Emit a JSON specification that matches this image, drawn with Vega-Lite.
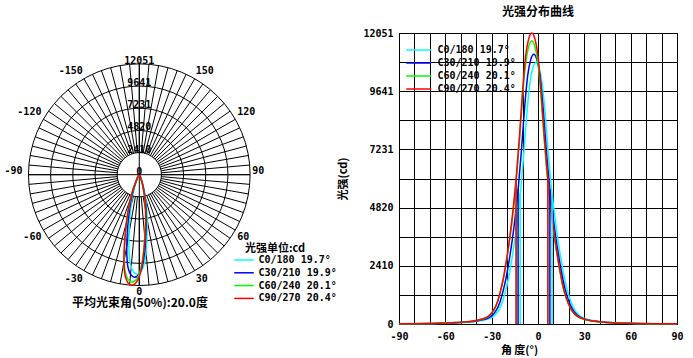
{
"$schema": "https://vega.github.io/schema/vega-lite/v6.json",
"padding": {"left": 0, "top": 5, "right": 0, "bottom": 0},
"background": "white",
"bounds": "flush",
"spacing": 119,
"config": {"view": {"stroke": null}, "font": "DejaVu Sans Mono"},
"resolve": {"scale": {"color": "independent"}, "legend": {"color": "independent"}},
"datasets": {
"curves": [
{"series":"C0/180 19.7°","angle":-90,"cd":11},{"series":"C0/180 19.7°","angle":-61.3,"cd":32},{"series":"C0/180 19.7°","angle":-51.3,"cd":54},{"series":"C0/180 19.7°","angle":-41.3,"cd":97},{"series":"C0/180 19.7°","angle":-33.3,"cd":184},{"series":"C0/180 19.7°","angle":-29.3,"cd":292},{"series":"C0/180 19.7°","angle":-26.3,"cd":487},{"series":"C0/180 19.7°","angle":-23.3,"cd":866},{"series":"C0/180 19.7°","angle":-21.3,"cd":1298},{"series":"C0/180 19.7°","angle":-19.3,"cd":1839},{"series":"C0/180 19.7°","angle":-17.3,"cd":2543},{"series":"C0/180 19.7°","angle":-15.3,"cd":3354},{"series":"C0/180 19.7°","angle":-13.3,"cd":4328},{"series":"C0/180 19.7°","angle":-11.3,"cd":5518},{"series":"C0/180 19.7°","angle":-9.3,"cd":6979},{"series":"C0/180 19.7°","angle":-7.3,"cd":8656},{"series":"C0/180 19.7°","angle":-5.3,"cd":9954},{"series":"C0/180 19.7°","angle":-3.3,"cd":10604},{"series":"C0/180 19.7°","angle":-1.3,"cd":10820},{"series":"C0/180 19.7°","angle":0.7,"cd":10604},{"series":"C0/180 19.7°","angle":2.7,"cd":9954},{"series":"C0/180 19.7°","angle":4.7,"cd":8656},{"series":"C0/180 19.7°","angle":6.7,"cd":7033},{"series":"C0/180 19.7°","angle":8.7,"cd":5626},{"series":"C0/180 19.7°","angle":10.7,"cd":4544},{"series":"C0/180 19.7°","angle":12.7,"cd":3571},{"series":"C0/180 19.7°","angle":14.7,"cd":2759},{"series":"C0/180 19.7°","angle":16.7,"cd":2056},{"series":"C0/180 19.7°","angle":18.7,"cd":1461},{"series":"C0/180 19.7°","angle":20.7,"cd":1028},{"series":"C0/180 19.7°","angle":23.7,"cd":595},{"series":"C0/180 19.7°","angle":26.7,"cd":357},{"series":"C0/180 19.7°","angle":30.7,"cd":216},{"series":"C0/180 19.7°","angle":38.7,"cd":108},{"series":"C0/180 19.7°","angle":48.7,"cd":54},{"series":"C0/180 19.7°","angle":58.7,"cd":32},{"series":"C0/180 19.7°","angle":90,"cd":11},
{"series":"C30/210 19.9°","angle":-90,"cd":11},{"series":"C30/210 19.9°","angle":-62.7,"cd":34},{"series":"C30/210 19.9°","angle":-52.7,"cd":56},{"series":"C30/210 19.9°","angle":-42.7,"cd":101},{"series":"C30/210 19.9°","angle":-34.7,"cd":190},{"series":"C30/210 19.9°","angle":-30.7,"cd":302},{"series":"C30/210 19.9°","angle":-27.7,"cd":503},{"series":"C30/210 19.9°","angle":-24.7,"cd":894},{"series":"C30/210 19.9°","angle":-22.7,"cd":1340},{"series":"C30/210 19.9°","angle":-20.7,"cd":1899},{"series":"C30/210 19.9°","angle":-18.7,"cd":2625},{"series":"C30/210 19.9°","angle":-16.7,"cd":3463},{"series":"C30/210 19.9°","angle":-14.7,"cd":4468},{"series":"C30/210 19.9°","angle":-12.7,"cd":5697},{"series":"C30/210 19.9°","angle":-10.7,"cd":7205},{"series":"C30/210 19.9°","angle":-8.7,"cd":8936},{"series":"C30/210 19.9°","angle":-6.7,"cd":10276},{"series":"C30/210 19.9°","angle":-4.7,"cd":10947},{"series":"C30/210 19.9°","angle":-2.7,"cd":11170},{"series":"C30/210 19.9°","angle":-0.7,"cd":10947},{"series":"C30/210 19.9°","angle":1.3,"cd":10276},{"series":"C30/210 19.9°","angle":3.3,"cd":8936},{"series":"C30/210 19.9°","angle":5.3,"cd":7261},{"series":"C30/210 19.9°","angle":7.3,"cd":5808},{"series":"C30/210 19.9°","angle":9.3,"cd":4691},{"series":"C30/210 19.9°","angle":11.3,"cd":3686},{"series":"C30/210 19.9°","angle":13.3,"cd":2848},{"series":"C30/210 19.9°","angle":15.3,"cd":2122},{"series":"C30/210 19.9°","angle":17.3,"cd":1508},{"series":"C30/210 19.9°","angle":19.3,"cd":1061},{"series":"C30/210 19.9°","angle":22.3,"cd":614},{"series":"C30/210 19.9°","angle":25.3,"cd":369},{"series":"C30/210 19.9°","angle":29.3,"cd":223},{"series":"C30/210 19.9°","angle":37.3,"cd":112},{"series":"C30/210 19.9°","angle":47.3,"cd":56},{"series":"C30/210 19.9°","angle":57.3,"cd":34},{"series":"C30/210 19.9°","angle":90,"cd":11},
{"series":"C60/240 20.1°","angle":-90,"cd":12},{"series":"C60/240 20.1°","angle":-64,"cd":35},{"series":"C60/240 20.1°","angle":-54,"cd":59},{"series":"C60/240 20.1°","angle":-44,"cd":106},{"series":"C60/240 20.1°","angle":-36,"cd":199},{"series":"C60/240 20.1°","angle":-32,"cd":317},{"series":"C60/240 20.1°","angle":-29,"cd":528},{"series":"C60/240 20.1°","angle":-26,"cd":938},{"series":"C60/240 20.1°","angle":-24,"cd":1408},{"series":"C60/240 20.1°","angle":-22,"cd":1994},{"series":"C60/240 20.1°","angle":-20,"cd":2757},{"series":"C60/240 20.1°","angle":-18,"cd":3636},{"series":"C60/240 20.1°","angle":-16,"cd":4692},{"series":"C60/240 20.1°","angle":-14,"cd":5982},{"series":"C60/240 20.1°","angle":-12,"cd":7566},{"series":"C60/240 20.1°","angle":-10,"cd":9384},{"series":"C60/240 20.1°","angle":-8,"cd":10792},{"series":"C60/240 20.1°","angle":-6,"cd":11495},{"series":"C60/240 20.1°","angle":-4,"cd":11730},{"series":"C60/240 20.1°","angle":-2,"cd":11495},{"series":"C60/240 20.1°","angle":0,"cd":10792},{"series":"C60/240 20.1°","angle":2,"cd":9384},{"series":"C60/240 20.1°","angle":4,"cd":7625},{"series":"C60/240 20.1°","angle":6,"cd":6100},{"series":"C60/240 20.1°","angle":8,"cd":4927},{"series":"C60/240 20.1°","angle":10,"cd":3871},{"series":"C60/240 20.1°","angle":12,"cd":2991},{"series":"C60/240 20.1°","angle":14,"cd":2229},{"series":"C60/240 20.1°","angle":16,"cd":1584},{"series":"C60/240 20.1°","angle":18,"cd":1114},{"series":"C60/240 20.1°","angle":21,"cd":645},{"series":"C60/240 20.1°","angle":24,"cd":387},{"series":"C60/240 20.1°","angle":28,"cd":235},{"series":"C60/240 20.1°","angle":36,"cd":117},{"series":"C60/240 20.1°","angle":46,"cd":59},{"series":"C60/240 20.1°","angle":56,"cd":35},{"series":"C60/240 20.1°","angle":90,"cd":12},
{"series":"C90/270 20.4°","angle":-90,"cd":12},{"series":"C90/270 20.4°","angle":-64,"cd":36},{"series":"C90/270 20.4°","angle":-54,"cd":60},{"series":"C90/270 20.4°","angle":-44,"cd":108},{"series":"C90/270 20.4°","angle":-36,"cd":205},{"series":"C90/270 20.4°","angle":-32,"cd":325},{"series":"C90/270 20.4°","angle":-29,"cd":542},{"series":"C90/270 20.4°","angle":-26,"cd":964},{"series":"C90/270 20.4°","angle":-24,"cd":1446},{"series":"C90/270 20.4°","angle":-22,"cd":2049},{"series":"C90/270 20.4°","angle":-20,"cd":2832},{"series":"C90/270 20.4°","angle":-18,"cd":3736},{"series":"C90/270 20.4°","angle":-16,"cd":4820},{"series":"C90/270 20.4°","angle":-14,"cd":6146},{"series":"C90/270 20.4°","angle":-12,"cd":7773},{"series":"C90/270 20.4°","angle":-10,"cd":9641},{"series":"C90/270 20.4°","angle":-8,"cd":11087},{"series":"C90/270 20.4°","angle":-6,"cd":11810},{"series":"C90/270 20.4°","angle":-4,"cd":12051},{"series":"C90/270 20.4°","angle":-2,"cd":11810},{"series":"C90/270 20.4°","angle":0,"cd":11087},{"series":"C90/270 20.4°","angle":2,"cd":9641},{"series":"C90/270 20.4°","angle":4,"cd":7833},{"series":"C90/270 20.4°","angle":6,"cd":6267},{"series":"C90/270 20.4°","angle":8,"cd":5061},{"series":"C90/270 20.4°","angle":10,"cd":3977},{"series":"C90/270 20.4°","angle":12,"cd":3073},{"series":"C90/270 20.4°","angle":14,"cd":2290},{"series":"C90/270 20.4°","angle":16,"cd":1627},{"series":"C90/270 20.4°","angle":18,"cd":1145},{"series":"C90/270 20.4°","angle":21,"cd":663},{"series":"C90/270 20.4°","angle":24,"cd":398},{"series":"C90/270 20.4°","angle":28,"cd":241},{"series":"C90/270 20.4°","angle":36,"cd":121},{"series":"C90/270 20.4°","angle":46,"cd":60},{"series":"C90/270 20.4°","angle":56,"cd":36},{"series":"C90/270 20.4°","angle":90,"cd":12}
],
"beam": [
{"series":"C0/180 19.7°","angle":-11.5,"half":5410},{"series":"C0/180 19.7°","angle":9.1,"half":5410},
{"series":"C30/210 19.9°","angle":-12.9,"half":5585},{"series":"C30/210 19.9°","angle":7.7,"half":5585},
{"series":"C60/240 20.1°","angle":-14.1,"half":5865},{"series":"C60/240 20.1°","angle":6.3,"half":5865},
{"series":"C90/270 20.4°","angle":-14.2,"half":6025},{"series":"C90/270 20.4°","angle":6.4,"half":6025}
],
"rings": [{"ring":0},{"ring":2410},{"ring":4820},{"ring":7231},{"ring":9641},{"ring":12051}],
"anglabels": [{"angle":-150},{"angle":-120},{"angle":-90},{"angle":-60},{"angle":-30},{"angle":0},{"angle":30},{"angle":60},{"angle":90},{"angle":120},{"angle":150}],
"spokes": [
{"angle":0,"r1":-12051,"r2":12051},{"angle":90,"r1":-12051,"r2":12051},
{"angle":0,"r1":2410,"r2":12051},{"angle":5,"r1":2410,"r2":12051},{"angle":10,"r1":2410,"r2":12051},{"angle":15,"r1":2410,"r2":12051},{"angle":20,"r1":2410,"r2":12051},{"angle":25,"r1":2410,"r2":12051},{"angle":30,"r1":2410,"r2":12051},{"angle":35,"r1":2410,"r2":12051},{"angle":40,"r1":2410,"r2":12051},{"angle":45,"r1":2410,"r2":12051},{"angle":50,"r1":2410,"r2":12051},{"angle":55,"r1":2410,"r2":12051},{"angle":60,"r1":2410,"r2":12051},{"angle":65,"r1":2410,"r2":12051},{"angle":70,"r1":2410,"r2":12051},{"angle":75,"r1":2410,"r2":12051},{"angle":80,"r1":2410,"r2":12051},{"angle":85,"r1":2410,"r2":12051},{"angle":90,"r1":2410,"r2":12051},{"angle":95,"r1":2410,"r2":12051},{"angle":100,"r1":2410,"r2":12051},{"angle":105,"r1":2410,"r2":12051},{"angle":110,"r1":2410,"r2":12051},{"angle":115,"r1":2410,"r2":12051},{"angle":120,"r1":2410,"r2":12051},{"angle":125,"r1":2410,"r2":12051},{"angle":130,"r1":2410,"r2":12051},{"angle":135,"r1":2410,"r2":12051},{"angle":140,"r1":2410,"r2":12051},{"angle":145,"r1":2410,"r2":12051},{"angle":150,"r1":2410,"r2":12051},{"angle":155,"r1":2410,"r2":12051},{"angle":160,"r1":2410,"r2":12051},{"angle":165,"r1":2410,"r2":12051},{"angle":170,"r1":2410,"r2":12051},{"angle":175,"r1":2410,"r2":12051},{"angle":180,"r1":2410,"r2":12051},{"angle":185,"r1":2410,"r2":12051},{"angle":190,"r1":2410,"r2":12051},{"angle":195,"r1":2410,"r2":12051},{"angle":200,"r1":2410,"r2":12051},{"angle":205,"r1":2410,"r2":12051},{"angle":210,"r1":2410,"r2":12051},{"angle":215,"r1":2410,"r2":12051},{"angle":220,"r1":2410,"r2":12051},{"angle":225,"r1":2410,"r2":12051},{"angle":230,"r1":2410,"r2":12051},{"angle":235,"r1":2410,"r2":12051},{"angle":240,"r1":2410,"r2":12051},{"angle":245,"r1":2410,"r2":12051},{"angle":250,"r1":2410,"r2":12051},{"angle":255,"r1":2410,"r2":12051},{"angle":260,"r1":2410,"r2":12051},{"angle":265,"r1":2410,"r2":12051},{"angle":270,"r1":2410,"r2":12051},{"angle":275,"r1":2410,"r2":12051},{"angle":280,"r1":2410,"r2":12051},{"angle":285,"r1":2410,"r2":12051},{"angle":290,"r1":2410,"r2":12051},{"angle":295,"r1":2410,"r2":12051},{"angle":300,"r1":2410,"r2":12051},{"angle":305,"r1":2410,"r2":12051},{"angle":310,"r1":2410,"r2":12051},{"angle":315,"r1":2410,"r2":12051},{"angle":320,"r1":2410,"r2":12051},{"angle":325,"r1":2410,"r2":12051},{"angle":330,"r1":2410,"r2":12051},{"angle":335,"r1":2410,"r2":12051},{"angle":340,"r1":2410,"r2":12051},{"angle":345,"r1":2410,"r2":12051},{"angle":350,"r1":2410,"r2":12051},{"angle":355,"r1":2410,"r2":12051}
]
},
"hconcat": [
{
"width": 280, "height": 256,
"title": {"text": "平均光束角(50%):20.0度", "orient": "bottom", "frame": "group", "anchor": "middle", "baseline": "top", "offset": -6, "font": "Noto Sans CJK SC", "fontSize": 12, "fontWeight": "bold", "color": "black"},
"layer": [
{
"data": {"name": "spokes"},
"transform": [
{"calculate": "datum.r1 * sin(datum.angle * PI / 180)", "as": "xa"},
{"calculate": "-datum.r1 * cos(datum.angle * PI / 180)", "as": "ya"},
{"calculate": "datum.r2 * sin(datum.angle * PI / 180)", "as": "xb"},
{"calculate": "-datum.r2 * cos(datum.angle * PI / 180)", "as": "yb"}
],
"mark": {"type": "rule", "color": "black", "strokeWidth": 1},
"encoding": {
"x": {"field": "xa", "type": "quantitative", "scale": {"domain": [-15150, 15303], "nice": false, "zero": false}, "axis": null},
"y": {"field": "ya", "type": "quantitative", "scale": {"domain": [-12431, 15411], "nice": false, "zero": false}, "axis": null},
"x2": {"field": "xb"}, "y2": {"field": "yb"}
}
},
{
"data": {"name": "rings"},
"transform": [{"filter": "datum.ring > 0"}, {"calculate": "0", "as": "c0"}],
"mark": {"type": "point", "shape": "circle", "filled": false, "color": "black", "strokeWidth": 1, "opacity": 1},
"encoding": {
"x": {"field": "c0", "type": "quantitative"},
"y": {"field": "c0", "type": "quantitative"},
"size": {"field": "ring", "type": "quantitative", "scale": {"type": "pow", "exponent": 2, "domain": [0, 12051], "range": [0, 49107]}, "legend": null}
}
},
{
"data": {"name": "curves"},
"transform": [
{"calculate": "datum.cd * sin(datum.angle * PI / 180)", "as": "px"},
{"calculate": "-datum.cd * cos(datum.angle * PI / 180)", "as": "py"}
],
"mark": {"type": "line", "strokeWidth": 1.5, "interpolate": "catmull-rom"},
"encoding": {
"x": {"field": "px", "type": "quantitative"},
"y": {"field": "py", "type": "quantitative"},
"order": {"field": "angle", "type": "quantitative"},
"color": {"field": "series", "type": "nominal",
"scale": {"domain": ["C0/180 19.7°", "C30/210 19.9°", "C60/240 20.1°", "C90/270 20.4°"], "range": ["#00ffff", "#0000ff", "#00ff00", "#ff0000"]},
"legend": {"orient": "none", "legendX": 245, "legendY": 210, "padding": 0, "title": "    光强单位:cd", "titleFont": "Noto Sans CJK SC", "titleFontSize": 11, "titleFontWeight": "bold", "titleColor": "black", "titlePadding": 1, "titleAnchor": "start",
"symbolType": "M-5.25,0L1.25,0", "symbolSize": 36, "symbolStrokeWidth": 1.5, "labelOffset": 3.5, "rowPadding": 2.8,
"labelFont": "DejaVu Sans Mono", "labelFontSize": 10, "labelFontWeight": "bold", "labelColor": "black", "labelLimit": 200}}
}
},
{
"data": {"name": "rings"},
"transform": [{"calculate": "0", "as": "c0"}],
"mark": {"type": "text", "font": "DejaVu Sans Mono", "fontSize": 10, "fontWeight": "bold", "baseline": "middle", "align": "center", "dy": -3, "color": "black"},
"encoding": {
"x": {"field": "c0", "type": "quantitative"},
"y": {"field": "ring", "type": "quantitative"},
"text": {"field": "ring", "type": "nominal"}
}
},
{
"data": {"name": "anglabels"},
"transform": [
{"filter": "datum.angle < 0"},
{"calculate": "(datum.angle == -90 ? 12700 : 12290) * sin(datum.angle * PI / 180)", "as": "lx"},
{"calculate": "-12290 * cos(datum.angle * PI / 180) + (abs(datum.angle) > 90 ? 680 : (abs(datum.angle) < 90 ? -660 : 360))", "as": "ly"}
],
"mark": {"type": "text", "font": "DejaVu Sans Mono", "fontSize": 10, "fontWeight": "bold", "baseline": "middle", "align": "right", "color": "black"},
"encoding": {
"x": {"field": "lx", "type": "quantitative"},
"y": {"field": "ly", "type": "quantitative"},
"text": {"field": "angle", "type": "nominal"}
}
},
{
"data": {"name": "anglabels"},
"transform": [
{"filter": "datum.angle > 0"},
{"calculate": "12290 * sin(datum.angle * PI / 180)", "as": "lx"},
{"calculate": "-12290 * cos(datum.angle * PI / 180) + (abs(datum.angle) > 90 ? 680 : (abs(datum.angle) < 90 ? -660 : 360))", "as": "ly"}
],
"mark": {"type": "text", "font": "DejaVu Sans Mono", "fontSize": 10, "fontWeight": "bold", "baseline": "middle", "align": "left", "color": "black"},
"encoding": {
"x": {"field": "lx", "type": "quantitative"},
"y": {"field": "ly", "type": "quantitative"},
"text": {"field": "angle", "type": "nominal"}
}
},
{
"data": {"name": "anglabels"},
"transform": [
{"filter": "datum.angle == 0"},
{"calculate": "0", "as": "lx"},
{"calculate": "-12290 - 450", "as": "ly"}
],
"mark": {"type": "text", "font": "DejaVu Sans Mono", "fontSize": 10, "fontWeight": "bold", "baseline": "middle", "align": "center", "color": "black"},
"encoding": {
"x": {"field": "lx", "type": "quantitative"},
"y": {"field": "ly", "type": "quantitative"},
"text": {"field": "angle", "type": "nominal"}
}
}
]
},
{
"width": 278, "height": 291,
"view": {"stroke": "black", "strokeWidth": 1},
"title": {"text": "光强分布曲线", "frame": "group", "anchor": "middle", "offset": 9, "font": "Noto Sans CJK SC", "fontSize": 12, "fontWeight": "bold", "color": "black"},
"layer": [
{
"data": {"name": "curves"},
"mark": {"type": "line", "strokeWidth": 1.5, "interpolate": "monotone"},
"encoding": {
"x": {"field": "angle", "type": "quantitative", "scale": {"domain": [-90, 90], "nice": false, "zero": false},
"axis": {"values": [-90,-80,-70,-60,-50,-40,-30,-20,-10,0,10,20,30,40,50,60,70,80,90], "tickCount": 100, "labelExpr": "datum.value % 30 == 0 ? '' + datum.value : ''", "labelOverlap": false, "labelFlush": false, "grid": true, "gridColor": "black", "gridOpacity": 1, "gridWidth": 1, "ticks": false, "domain": false, "labelFont": "DejaVu Sans Mono", "labelFontSize": 10, "labelFontWeight": "bold", "labelColor": "black", "labelPadding": 7, "title": "角 度(°)", "titleFont": "Noto Sans CJK SC", "titleFontSize": 11, "titleFontWeight": "bold", "titleColor": "black", "titlePadding": 3, "titleX": 120}},
"y": {"field": "cd", "type": "quantitative", "scale": {"domain": [0, 12051], "nice": false},
"axis": {"values": [0,1205.1,2410.2,3615.3,4820.4,6025.5,7230.6,8435.7,9640.8,10845.9,12051], "tickCount": 100, "labelExpr": "round(datum.value / 1205.1) % 2 == 0 ? format(datum.value, '.0f') : ''", "labelOverlap": false, "labelFlush": false, "grid": true, "gridColor": "black", "gridOpacity": 1, "gridWidth": 1, "ticks": false, "domain": false, "labelFont": "DejaVu Sans Mono", "labelFontSize": 10, "labelFontWeight": "bold", "labelColor": "black", "labelPadding": 6, "title": "光强(cd)", "titleFont": "Noto Sans CJK SC", "titleFontSize": 11, "titleFontWeight": "bold", "titleColor": "black", "titlePadding": 14}},
"color": {"field": "series", "type": "nominal",
"scale": {"domain": ["C0/180 19.7°", "C30/210 19.9°", "C60/240 20.1°", "C90/270 20.4°"], "range": ["#00ffff", "#0000ff", "#00ff00", "#ff0000"]},
"legend": {"orient": "none", "legendX": 24, "legendY": 12, "padding": 0, "title": null,
"symbolType": "M-7.25,0L1.08,0", "symbolSize": 36, "symbolStrokeWidth": 1.5, "labelOffset": 4.5, "rowPadding": 3,
"labelFont": "DejaVu Sans Mono", "labelFontSize": 10, "labelFontWeight": "bold", "labelColor": "black", "labelLimit": 200}}
}
},
{
"data": {"name": "beam"},
"transform": [{"calculate": "0", "as": "base"}],
"mark": {"type": "rule", "strokeWidth": 1.5},
"encoding": {
"x": {"field": "angle", "type": "quantitative"},
"y": {"field": "base", "type": "quantitative"},
"y2": {"field": "half"},
"color": {"field": "series", "type": "nominal"}
}
}
]
}
]
}
